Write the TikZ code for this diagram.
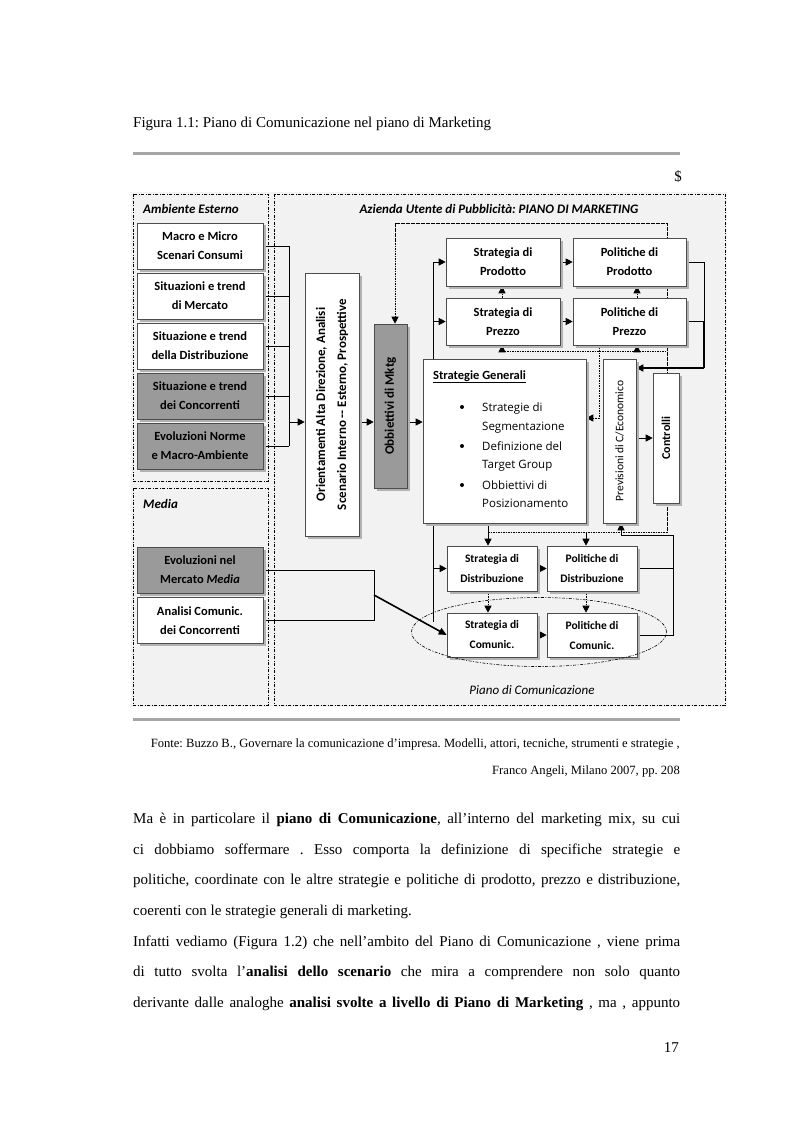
\documentclass[tikz,border=0pt]{standalone}
\usepackage{graphicx}
\usepackage{fontspec}
\setmainfont{Liberation Serif}
\newfontfamily\calfont{Carlito}
\newfontfamily\osfont{Open Sans}
\usetikzlibrary{arrows.meta,shadows,shapes.geometric}
\pgfdeclarelayer{bglayer}
\pgfdeclarelayer{linelayer}
\pgfsetlayers{bglayer,linelayer,main}
\definecolor{bggray}{HTML}{F2F2F2}
\definecolor{boxgray}{HTML}{9A9A9A}
\definecolor{rulegray}{HTML}{A6A6A6}
\frenchspacing
\newcommand\jline[1]{\setbox0\hbox{#1}\ifdim\wd0>547pt \resizebox{547pt}{\height}{\box0}\else\hbox to 547pt{#1}\fi}
\tikzset{
  bx/.style={draw=black!70, line width=0.6pt, fill=white, inner sep=0pt, align=center,
    drop shadow={shadow xshift=2.5pt, shadow yshift=-2.5pt, fill=black!30, opacity=1},
    font=\calfont\bfseries\fontsize{12.5}{19}\selectfont},
  gbx/.style={bx, fill=boxgray},
  sbx/.style={bx, font=\calfont\bfseries\fontsize{11.5}{20}\selectfont},
  tip/.style={-{Triangle[length=7pt,width=7pt]}},
  arr/.style={tip, line width=0.7pt},
  ln/.style={line width=0.7pt},
  thk/.style={line width=1.6pt},
  dsh/.style={line width=0.7pt, dash pattern=on 1.6pt off 0.9pt},
  panel/.style={line width=0.6pt, dash pattern=on 3pt off 1.5pt on 1pt off 1.5pt},
  vtext/.style={rotate=90, align=center, inner sep=0pt},
  body/.style={anchor=base west, inner sep=0pt, font=\fontsize{15}{18}\selectfont},
  blt/.style={anchor=base west, inner sep=0pt, font=\osfont\fontsize{11.5}{14}\selectfont},
}
\begin{document}
\begin{tikzpicture}[x=1pt,y=-1pt]
\useasboundingbox (0,0) rectangle (794,1123);

\begin{pgfonlayer}{bglayer}
\fill[white] (0,0) rectangle (794,1123);
\fill[bggray] (131,192) rectangle (727,707);
\draw[panel] (133,194) rectangle (268,481);
\draw[panel] (133,488) rectangle (268,705);
\draw[panel] (274,194) rectangle (725,705);
\end{pgfonlayer}

% page text
\node[body] (cap) at (133,128) {Figura 1.1: Piano di Comunicazione nel piano di Marketing};
\fill[rulegray] (133,152.5) rectangle (680,155.5);
\node[body, anchor=base east] (dollar) at (682,182) {\$};

% panel titles
\node[anchor=base west, inner sep=0pt, font=\calfont\bfseries\itshape\fontsize{13}{15}\selectfont] (tamb) at (143,214) {Ambiente Esterno};
\node[anchor=base west, inner sep=0pt, font=\calfont\bfseries\itshape\fontsize{13}{15}\selectfont] (tmed) at (143,508) {Media};
\node[anchor=base, inner sep=0pt, font=\calfont\bfseries\itshape\fontsize{13}{15}\selectfont] (taz) at (499,214) {Azienda Utente di Pubblicità: PIANO DI MARKETING};
\node[anchor=base, inner sep=0pt, font=\calfont\itshape\fontsize{13}{15}\selectfont] (tpc) at (532,694) {Piano di Comunicazione};

% left boxes
\node[bx, minimum width=126, minimum height=46] (m1) at (200,246) {Macro e Micro\\Scenari Consumi};
\node[bx, minimum width=126, minimum height=46] (m2) at (200,296) {Situazioni e trend\\di Mercato};
\node[bx, minimum width=126, minimum height=46] (m3) at (200,346) {Situazione e trend\\della Distribuzione};
\node[gbx, minimum width=126, minimum height=46] (m4) at (200,396) {Situazione e trend\\dei Concorrenti};
\node[gbx, minimum width=126, minimum height=46] (m5) at (200,446) {Evoluzioni Norme\\e Macro-Ambiente};
\node[gbx, minimum width=126, minimum height=46] (e1) at (200,570) {Evoluzioni nel\\Mercato \textit{Media}};
\node[bx, minimum width=126, minimum height=46] (e2) at (200,620.5) {Analisi Comunic.\\dei Concorrenti};

% vertical boxes
\node[bx, minimum width=54, minimum height=263] (orient) at (332,404.5) {};
\node[vtext, font=\calfont\bfseries\fontsize{13}{21}\selectfont] (orientt) at (orient.center) {Orientamenti Alta Direzione, Analisi\\Scenario Interno -- Esterno, Prospettive};
\node[gbx, minimum width=33, minimum height=164] (obb) at (390.5,406) {};
\node[vtext, font=\calfont\bfseries\fontsize{13}{15}\selectfont] (obbt) at (obb.center) {Obbiettivi di Mktg};

% strategie generali
\node[bx, minimum width=163, minimum height=164] (sg) at (504.5,441) {};
\node[anchor=base west, inner sep=0pt, font=\calfont\bfseries\fontsize{12.5}{15}\selectfont] (sgt) at (433,379) {\underline{Strategie Generali}};
\foreach \yy in {407,446,485} {\fill (462,\yy) circle (2pt);}
\node[blt] (b1) at (482,411) {Strategie di};
\node[blt] (b2) at (482,430) {Segmentazione};
\node[blt] (b3) at (482,450) {Definizione del};
\node[blt] (b4) at (482,468) {Target Group};
\node[blt] (b5) at (482,489) {Obbiettivi di};
\node[blt] (b6) at (482,507) {Posizionamento};

% previsioni / controlli
\node[bx, minimum width=33, minimum height=164] (prev) at (619.5,441) {};
\node[vtext, font=\calfont\fontsize{11.5}{14}\selectfont] (prevt) at (prev.center) {Previsioni di C/Economico};
\node[bx, minimum width=26, minimum height=130] (ctrl) at (666,438) {};
\node[vtext, font=\calfont\bfseries\fontsize{12}{14}\selectfont] (ctrlt) at (ctrl.center) {Controlli};

% product / price
\node[bx, minimum width=114, minimum height=48] (sprod) at (503,262) {Strategia di\\Prodotto};
\node[bx, minimum width=113, minimum height=48] (pprod) at (629.5,262) {Politiche di\\Prodotto};
\node[bx, minimum width=114, minimum height=47] (sprz) at (503,321.5) {Strategia di\\Prezzo};
\node[bx, minimum width=113, minimum height=47] (pprz) at (629.5,321.5) {Politiche di\\Prezzo};

% distribution / communication
\node[sbx, minimum width=90, minimum height=45] (sdist) at (492,568.5) {Strategia di\\Distribuzione};
\node[sbx, minimum width=90, minimum height=45] (pdist) at (592,568.5) {Politiche di\\Distribuzione};
\node[sbx, minimum width=90, minimum height=44] (scom) at (492,635) {Strategia di\\Comunic.};
\node[sbx, minimum width=90, minimum height=44] (pcom) at (592,635) {Politiche di\\Comunic.};
\node[draw, ellipse, panel, minimum width=255, minimum height=69, inner sep=0pt] (ell) at (539,632) {};

% coordinates
\coordinate (busA) at (289,246);
\coordinate (busB) at (289,446);
\coordinate (busC) at (289,422);
\coordinate (d1) at (395,223);
\coordinate (d2) at (667,223);
\coordinate (d3) at (667,532);
\coordinate (d4) at (488,532);
\coordinate (d5) at (502,351);
\coordinate (d6) at (667,351);
\coordinate (d7) at (637,351);
\coordinate (d8) at (599,418);
\coordinate (f1) at (433,262);
\coordinate (f2) at (433,622);
\coordinate (r1) at (704,262);
\coordinate (r2) at (704,368);
\coordinate (r3) at (704,321.5);
\coordinate (q1) at (673,568.5);
\coordinate (q2) at (673,535);
\coordinate (q3) at (621,535);
\coordinate (mb1) at (374,570);
\coordinate (mb2) at (374,620.5);
\coordinate (mb3) at (374,595);
\coordinate (p1) at (586,532);

\begin{pgfonlayer}{linelayer}
% external bus
\foreach \n in {m1,m2,m3,m4,m5} {\draw[ln] (\n.east) -- (\n.east -| busA);}
\draw[ln] (busA) -- (busB);
\draw[arr] (busC) -- (busC -| orient.west);
\draw[arr] (orient.east |- busC) -- (obb.west |- busC);
\draw[arr] (obb.east |- busC) -- (sg.west |- busC);
% dashed feedback
\draw[dsh] (d4) -- (d3) -- (d2) -- (d1);
\draw[dsh,tip] (d1) -- (d1 |- obb.north);
\draw[dsh] (d5) -- (d6);
\draw[dsh,tip] (d5) -- (d5 |- sprz.south);
\draw[dsh,tip] (d7) -- (d7 |- pprz.south);
\draw[dsh,tip] (d5 |- sprz.north) -- (d5 |- sprod.south);
\draw[dsh,tip] (d7 |- pprz.north) -- (d7 |- pprod.south);
\draw[dsh,tip] (d8 |- pprz.south) -- (d8) -- (d8 -| sg.east);
% feeder
\draw[ln] (f1) -- (f2);
\draw[arr] (f1) -- (sprod.west);
\draw[arr] (f1 |- sprz.west) -- (sprz.west);
\draw[arr] (f1 |- sdist.west) -- (sdist.west);
% strategy -> policy
\draw[arr] (sprod.east) -- (pprod.west);
\draw[arr] (sprz.east) -- (pprz.west);
\draw[arr] (sdist.east) -- (pdist.west);
\draw[arr] (scom.east) -- (pcom.west);
% right bus
\draw[ln] (pprod.east) -- (r1) -- (r3);
\draw[ln] (pprz.east) -- (r3);
\draw[thk] (r3) -- (r2);
\draw[thk,-{Triangle[length=7pt,width=7pt]}] (r2) -- (r2 -| prev.east);
\draw[arr] (prev.east |- ctrl.center) -- (ctrl.west);
% bottom bus
\draw[ln] (pdist.east) -- (q1);
\draw[ln] (pcom.east) -- (pcom.east -| q1) -- (q2) -- (q3);
\draw[arr] (q3) -- (q3 |- prev.south);
% down arrows
\draw[arr] (d4 |- sg.south) -- (d4 |- sdist.north);
\draw[arr] (p1) -- (p1 |- pdist.north);
\draw[dsh,tip] (d4 |- sdist.south) -- (d4 |- scom.north);
\draw[dsh,tip] (p1 |- pdist.south) -- (p1 |- pcom.north);
% media
\draw[ln] (e1.east) -- (mb1) -- (mb2) -- (e2.east);
\draw[thk,-{Triangle[length=8pt,width=7pt]}] (mb3) -- (scom.west);
\end{pgfonlayer}

% bottom rule and source
\fill[rulegray] (133,718) rectangle (680,721);
\node[anchor=base east, inner sep=0pt, font=\fontsize{12.6}{15}\selectfont] (src1) at (680,747) {Fonte: Buzzo B., Governare la comunicazione d'impresa. Modelli, attori, tecniche, strumenti e strategie ,};
\node[anchor=base east, inner sep=0pt, font=\fontsize{12.6}{15}\selectfont] (src2) at (680,774) {Franco Angeli, Milano 2007, pp. 208};

% body text
\node[body] (l1) at (133,823) {\jline{Ma è in particolare il \textbf{piano di Comunicazione}, all'interno del marketing mix, su cui}};
\node[body] (l2) at (133,854) {\jline{ci dobbiamo soffermare . Esso comporta la definizione di specifiche strategie e}};
\node[body] (l3) at (133,884) {\jline{politiche, coordinate con le altre strategie e politiche di prodotto, prezzo e distribuzione,}};
\node[body] (l4) at (133,915) {coerenti con le strategie generali di marketing.};
\node[body] (l5) at (133,946) {\jline{Infatti vediamo (Figura 1.2) che nell'ambito del Piano di Comunicazione , viene prima}};
\node[body] (l6) at (133,976) {\jline{di tutto svolta l'\textbf{analisi dello scenario} che mira a comprendere non solo quanto}};
\node[body] (l7) at (133,1007) {\jline{derivante dalle analoghe \textbf{analisi svolte a livello di Piano di Marketing} , ma , appunto}};
\node[body, anchor=base east] (pg) at (679,1052) {17};
\end{tikzpicture}
\end{document}
